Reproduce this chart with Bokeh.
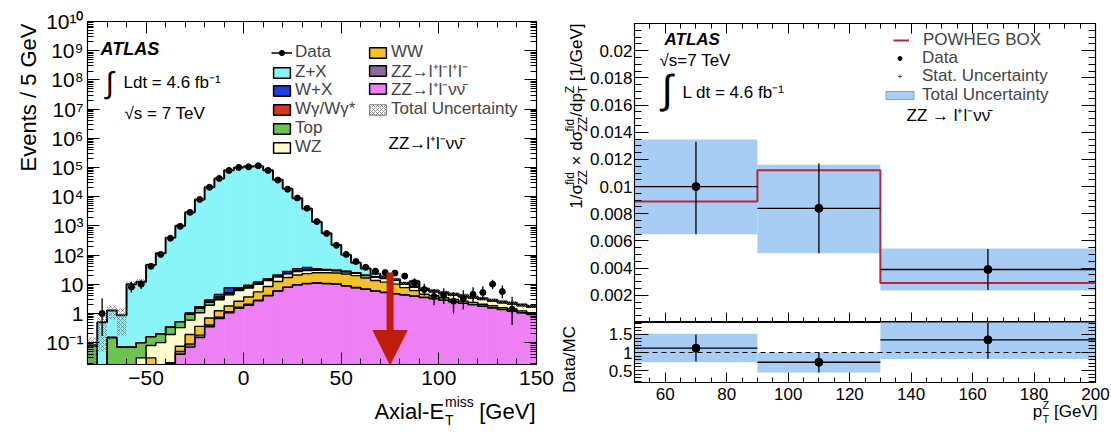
import numpy as np
from bokeh.plotting import figure
from bokeh.models import (ColumnDataSource, Label, Legend, LegendItem, FixedTicker,
                          LinearAxis, LogAxis, Range1d, CustomJSTickFormatter, Arrow,
                          NormalHead, Span)
from bokeh.layouts import row, column
from bokeh.embed import file_html
from bokeh.resources import INLINE
from bokeh.core.properties import value

FONT = "Liberation Sans"

# ---------------- left panel: Axial-E_T^miss, 5 GeV bins ----------------
met_edges = list(range(-80, 155, 5))
nan = float("nan")
data_counts = [nan, 1.0, nan, nan, 8, 10, 41, 105, 375, 960, 2900, 8000, 21000, 42000,
               79000, 100000, 105000, 115000, 79000, 37000, 18000, 9000, 4000, 1400, 550,
               215, 105, 60, 38, 28, 25, 24, 19, 11.5, 6.6, 3.8, 4.1, 2.6, 3.2, 4.5, 5.2,
               10, 5.6, 1.4, nan, nan]
data_err_lo = [0, 0.83, 0, 0, 2.8, 3.1, 6.4, 10, 19, 31, 54, 89, 145, 205, 281, 316, 324,
               339, 281, 192, 134, 95, 63, 37, 23, 14.7, 10, 7.7, 6.1, 5.3, 5.0, 4.9, 4.3,
               3.4, 2.6, 1.9, 2.0, 1.6, 1.8, 2.1, 2.2, 3.1, 2.3, 1.0, 0, 0]
data_err_hi = [0, 2.3, 0, 0, 3.9, 4.3, 7.4, 11, 20, 32, 55, 90, 146, 206, 282, 317, 325,
               340, 282, 193, 135, 96, 64, 38, 24, 15.7, 11, 8.8, 7.2, 6.3, 6.0, 5.9, 5.4,
               4.5, 3.7, 3.0, 3.2, 2.8, 3.0, 3.3, 3.4, 4.3, 3.5, 2.3, 0, 0]

zz_llvv = [0, 0, 0, 0, 0, 0, 0, 0, 0, 0.04, 0.07, 0.15, 0.35, 0.67, 1.05, 1.5, 1.9, 2.7,
           4.0, 5.8, 7.8, 9.5, 10.5, 11.0, 10.5, 10.0, 8.8, 7.6, 6.7, 5.8, 5.2, 4.7, 4.3,
           3.9, 3.5, 3.2, 2.8, 2.5, 2.2, 2.0, 1.75, 1.55, 1.35, 1.2, 1.05, 0.92]
zz_4l = [0, 0, 0, 0, 0, 0, 0, 0, 0.02, 0.01, 0.02, 0.03, 0.05, 0.07, 0.1, 0.12, 0.15, 0.15,
         0.15, 0.15, 0.15, 0.15, 0.15, 0.15, 0.12, 0.12, 0.1, 0.1, 0.08, 0.08, 0.07, 0.06,
         0.06, 0.05, 0.05, 0.04, 0.04, 0.03, 0.03, 0.03, 0.02, 0.02, 0.02, 0.02, 0.02, 0.02]
ww = [0, 0, 0, 0, 0, 0, 0.03, 0, 0, 0.025, 0.1, 0.18, 0.3, 0.5, 0.65, 1.0, 1.6, 2.6, 4.2,
      6.5, 9.0, 11.0, 12.5, 13.5, 14.0, 14.0, 13.5, 12.0, 9.5, 7.5, 6.5, 5.3, 3.3, 2.1,
      1.0, 0.8, 0.6, 0.5, 0.4, 0.35, 0.3, 0.25, 0.2, 0.2, 0.15, 0.12]
wz = [0, 0, 0, 0, 0, 0.03, 0.05, 0.1, 0.17, 0.25, 0.4, 0.7, 1.2, 1.7, 2.5, 3.5, 3.8, 4.5,
      5.0, 5.5, 6.0, 6.5, 6.5, 6.0, 5.5, 5.0, 4.5, 4.0, 3.5, 4.0, 4.0, 3.5, 2.2, 1.9, 1.6,
      1.45, 1.3, 1.2, 1.1, 1.0, 0.9, 0.82, 0.75, 0.7, 0.62, 0.55]
top = [0.08, 0, 0.15, 0.07, 0.07, 0.07, 0.08, 0.1, 0.15, 0.2, 0.35, 0.45, 0.5, 0.45, 0.4,
       0.4, 0.4, 0.4, 0.35, 0.35, 0.35, 0.3, 0.3, 0.3, 0.25, 0.25, 0.2, 0.2, 0.2, 0.15,
       0.15, 0.12, 0.12, 0.1, 0.1, 0.08, 0.08, 0.07, 0.06, 0.05, 0.05, 0.04, 0.04, 0.03,
       0.03, 0.03]
wgamma = [0, 0, 0, 0, 0, 0, 0, 0, 0, 0, 0.05, 0.1, 0.2, 0.3, 0.4, 0.5, 0.6, 0.6, 0.5, 0.4,
          0.3, 0.3, 0.25, 0.2, 0.15, 0.12, 0.1, 0.1, 0.08, 0.06, 0.05, 0.05, 0.04, 0.04,
          0.03, 0.03, 0.02, 0.02, 0.02, 0.02, 0.01, 0.01, 0.01, 0.01, 0.01, 0.01]
w_x = [0, 0, 0, 0, 0, 0, 0, 0, 0, 0, 0.05, 0.1, 0.3, 0.8, 2.5, 0.6, 0.8, 1.0, 1.2, 2.0, 4.0,
       6.0, 7.0, 3.0, 1.5, 1.0, 0.8, 0.6, 0.5, 0.4, 0.4, 0.3, 0.5, 4.0, 0.3, 0.2, 0.2, 0.15,
       0.15, 0.1, 0.1, 0.1, 0.1, 0.05, 0.05, 0.05]
z_x = [0, 0.5, 1.1, 0.8, 10, 12, 45, 115, 390, 1000, 2900, 8000, 21000, 42000, 80000,
       100000, 108000, 110000, 80000, 38000, 18500, 8800, 3800, 1350, 520, 190, 75, 30, 14,
       5, 2, 0.8, 0.6, 0.5, 0.4, 0.3, 0.3, 0.25, 0.2, 0.2, 0.15, 0.15, 0.1, 0.1, 0.1, 0.1]
rel_unc = [0.9, 0.9, 0.5, 0.8, 0.25, 0.25, 0.15, 0.12] + [0.1] * 17 + [0.12] * 8 + [0.15] * 13
cut_value = 75.0
arrow_from = 25.0

# ---------------- right panel: normalised pT^Z distribution ----------------
pt_edges = [50, 90, 130, 200]
pt_data = [0.0100, 0.0084, 0.0039]
pt_stat_lo = [0.0065, 0.0051, 0.0024]
pt_stat_hi = [0.0133, 0.0117, 0.0054]
pt_tot_lo = [0.0065, 0.0051, 0.00235]
pt_tot_hi = [0.01346, 0.0116, 0.00544]
powheg = [0.0089, 0.0112, 0.0029]
ratio = [1.12, 0.73, 1.35]
ratio_stat_lo = [0.75, 0.45, 0.83]
ratio_stat_hi = [1.50, 1.00, 1.95]
ratio_tot_lo = [0.73, 0.45, 0.82]
ratio_tot_hi = [1.52, 1.00, 1.90]

# ---------------- helpers ----------------
def style_axis(ax, fs, standoff, major=10, minor=5):
    ax.major_tick_in = major
    ax.major_tick_out = 0
    ax.minor_tick_in = minor
    ax.minor_tick_out = 0
    ax.axis_line_color = "black"
    ax.major_tick_line_color = "black"
    ax.minor_tick_line_color = "black"
    ax.major_label_text_font = FONT
    ax.major_label_text_font_size = fs
    ax.major_label_text_color = "black"
    ax.major_label_standoff = standoff


def hide_labels(ax):
    ax.formatter = CustomJSTickFormatter(code="return '';")
    ax.major_label_text_font_size = "1px"
    ax.major_label_standoff = 0


def blank_axis(cls, ticker, major=10, minor=5):
    ax = cls(ticker=ticker)
    style_axis(ax, "1px", 0, major, minor)
    hide_labels(ax)
    return ax


def step_xy(edges, vals):
    e = np.asarray(edges, float)
    v = np.asarray(vals, float)
    return np.repeat(e, 2)[1:-1], np.repeat(v, 2)


def add_label(fig, fx0, fy0, x, y, text, size, align="left", baseline="middle",
              angle=0.0, style="normal"):
    """In-frame label, positioned in screen pixels relative to the frame."""
    fig.add_layout(Label(x=x - fx0, y=fy0 - y, x_units="screen", y_units="screen",
                         text=text, text_font=FONT, text_font_size=f"{size}px",
                         text_align=align, text_baseline=baseline, angle=angle,
                         text_font_style=style, text_color="black"))


def add_text(fig, anchor, x, y, text, size, align="left", baseline="middle", angle=0.0,
             style="normal"):
    """Text outside the frame: anchored at a frame corner, offset in pixels."""
    (dx, dy), (px, py) = anchor
    fig.text(x=[dx], y=[dy], text=[text], x_offset=x - px, y_offset=y - py, angle=angle,
             text_font=value(FONT), text_font_size=value(f"{size}px"), text_align=align,
             text_baseline=baseline, text_font_style=style, text_color="black",
             level="overlay")


def add_legend_row(fig, fx0, fy0, xg, yc, label, renderers, gw, gh, standoff, fs, h=20):
    fig.add_layout(Legend(items=[LegendItem(label=value(label), renderers=renderers)],
                          location=(xg - fx0, fy0 - yc - h / 2), orientation="vertical",
                          padding=0, margin=0, spacing=0, glyph_width=gw, glyph_height=gh,
                          label_standoff=standoff, label_text_font=FONT,
                          label_text_font_size=f"{fs}px", label_height=h,
                          border_line_color=None, background_fill_alpha=0))


num_fmt = CustomJSTickFormatter(code="return String(parseFloat(tick.toFixed(4)));")
log_fmt = CustomJSTickFormatter(code="""
const e = Math.round(Math.log10(tick));
if (e === 0) return "1";
if (e === 1) return "10";
const m = {"-":"⁻","0":"⁰","1":"¹","2":"²","3":"³","4":"⁴","5":"⁵","6":"⁶","7":"⁷","8":"⁸","9":"⁹"};
return "10" + String(e).split("").map(c => m[c]).join("");
""")

# ================= LEFT FIGURE =================
L_LEFT, L_TOP, L_FW, L_FH = 87, 21, 449, 343
L_BOTTOM = L_TOP + L_FH
YLO, YHI = 10 ** -1.75, 1e10
p1 = figure(frame_width=L_FW, frame_height=L_FH, min_border_left=L_LEFT, min_border_right=24,
            min_border_top=L_TOP, min_border_bottom=432 - L_BOTTOM,
            x_range=Range1d(met_edges[0], met_edges[-1]), y_range=Range1d(YLO, YHI),
            y_axis_type="log", output_backend="svg", toolbar_location=None)
p1.grid.visible = False
p1.outline_line_color = "black"
p1.outline_line_width = 1.2
p1.background_fill_color = "white"
p1.border_fill_color = "white"

xt1 = FixedTicker(ticks=[-50, 0, 50, 100, 150], minor_ticks=list(range(-80, 151, 10)))
yt1 = FixedTicker(ticks=[10.0 ** k for k in range(-1, 11)],
                  minor_ticks=[m * 10.0 ** k for k in range(-2, 10) for m in range(2, 10)])
p1.xaxis.ticker = xt1
p1.yaxis.ticker = yt1
p1.yaxis.formatter = log_fmt
style_axis(p1.xaxis[0], "21px", 6, 12, 6)
style_axis(p1.yaxis[0], "21px", 4, 12, 6)
p1.add_layout(blank_axis(LinearAxis, xt1, 12, 6), "above")
p1.add_layout(blank_axis(LogAxis, yt1, 12, 6), "right")

FLOOR = 1e-3
e = np.array(met_edges, float)
bl, br = e[:-1], e[1:]
components = [
    (zz_llvv, "#ef7ff5"), (zz_4l, "#8c6a9c"), (ww, "#f5c02a"), (wz, "#fffbcb"),
    (top, "#6cc34e"), (wgamma, "#e0331f"), (w_x, "#1d3ee6"), (z_x, "#8af5f8"),
]
cum = np.zeros(len(bl))
levels = []
for vals, col in components:
    new = cum + np.array(vals, float)
    lo, hi = np.maximum(cum, FLOOR), np.maximum(new, FLOOR)
    keep = hi > lo
    p1.quad(left=bl[keep], right=br[keep], bottom=lo[keep], top=hi[keep],
            fill_color=col, line_color=col, line_width=0.6)
    levels.append(new)
    cum = new
for i, lv in enumerate(levels):
    xs, ys = step_xy(met_edges, np.maximum(lv, FLOOR))
    p1.line(xs, ys, line_color="black", line_width=2.0 if i == len(levels) - 1 else 1.4)

unc = np.array(rel_unc)
p1.quad(left=bl, right=br, bottom=np.maximum(cum * (1 - unc), FLOOR), top=cum * (1 + unc),
        fill_alpha=0, line_color=None, hatch_pattern="diagonal_cross", hatch_color="#666666",
        hatch_scale=4, hatch_weight=0.7, hatch_alpha=0.9)

dc = np.array(data_counts, float)
ok = ~np.isnan(dc)
cx = (bl + br) / 2
dsrc = ColumnDataSource(dict(x=cx[ok], y=dc[ok], lo=dc[ok] - np.array(data_err_lo)[ok],
                             hi=dc[ok] + np.array(data_err_hi)[ok],
                             xl=bl[ok] + 1.0, xr=br[ok] - 1.0))
p1.segment(x0="x", y0="lo", x1="x", y1="hi", source=dsrc, line_color="black", line_width=1.3)
p1.segment(x0="xl", y0="y", x1="xr", y1="y", source=dsrc, line_color="black", line_width=1.3)
p1.scatter(x="x", y="y", source=dsrc, marker="circle", size=6, color="black")

red = "#c01c0c"
p1.add_layout(Arrow(end=NormalHead(size=34, fill_color=red, line_color=red),
                    x_start=cut_value, y_start=arrow_from, x_end=cut_value, y_end=YLO,
                    line_color=red, line_width=7))


def dummy_box(fig, color, **kw):
    return fig.quad(left=[0], right=[0], bottom=[1], top=[1], fill_color=color, **kw)


def dummy_marker(fig, marker, **kw):
    return fig.scatter(x=[-1e6], y=[1], marker=marker, **kw)


def dummy_line(fig, **kw):
    return fig.line(x=[-1e6, -1e6 + 1], y=[1, 1], **kw)


lg_bar = dummy_line(p1, line_color="black", line_width=1.5)
lg_dot = dummy_marker(p1, "circle", size=7, color="black")
left_legend = [
    (271, 52, "Data", [lg_bar, lg_dot]),
    (271, 72, "Z+X", [dummy_box(p1, "#8af5f8", line_color="black", line_width=1.5)]),
    (271, 90, "W+X", [dummy_box(p1, "#1d3ee6", line_color="black", line_width=1.5)]),
    (271, 109, "Wγ/Wγ*", [dummy_box(p1, "#e0331f", line_color="black", line_width=1.5)]),
    (271, 128, "Top", [dummy_box(p1, "#6cc34e", line_color="black", line_width=1.5)]),
    (271, 147, "WZ", [dummy_box(p1, "#fffbcb", line_color="black", line_width=1.5)]),
    (367, 52, "WW", [dummy_box(p1, "#f5c02a", line_color="black", line_width=1.5)]),
    (367, 72, "ZZ→l⁺l⁻l⁺l⁻", [dummy_box(p1, "#8c6a9c", line_color="black", line_width=1.5)]),
    (367, 90, "ZZ→l⁺l⁻νν̄", [dummy_box(p1, "#ef7ff5", line_color="black", line_width=1.5)]),
    (367, 109, "Total Uncertainty",
     [dummy_box(p1, "white", line_color="#777777", line_width=1, hatch_pattern="diagonal_cross",
                hatch_color="#666666", hatch_scale=4, hatch_weight=0.7)]),
]
for xg, yc, lab, rs in left_legend:
    add_legend_row(p1, L_LEFT, L_BOTTOM, xg, yc, lab, rs, 21, 13, 3, 17)

add_label(p1, L_LEFT, L_BOTTOM, 100, 48, "ATLAS", 18, style="bold italic")
add_label(p1, L_LEFT, L_BOTTOM, 105, 82, "∫", 30)
add_label(p1, L_LEFT, L_BOTTOM, 123, 82, "Ldt = 4.6 fb⁻¹", 17)
add_label(p1, L_LEFT, L_BOTTOM, 124, 113, "√s = 7 TeV", 17)
add_label(p1, L_LEFT, L_BOTTOM, 388, 143, "ZZ→l⁺l⁻νν̄", 17)

A1 = ((met_edges[0], YLO), (L_LEFT, L_BOTTOM))
add_text(p1, A1, 28, 23, "Events / 5 GeV", 22, align="right", angle=np.pi / 2)
add_text(p1, A1, 535, 411, "[GeV]", 22, align="right")
add_text(p1, A1, 443.6, 411, "Axial-E", 22, align="right")
add_text(p1, A1, 444.5, 401, "miss", 14)
add_text(p1, A1, 444.5, 419, "T", 14)

# ================= RIGHT FIGURES =================
R_LEFT_PAGE = 634
M_TOP, M_FH, R_FW = 23, 299, 461
M_BOTTOM = M_TOP + M_FH
p2 = figure(frame_width=R_FW, frame_height=M_FH, min_border_left=74, min_border_right=16,
            min_border_top=M_TOP, min_border_bottom=0, x_range=Range1d(50, 200),
            y_range=Range1d(0, 0.022), output_backend="svg", toolbar_location=None)
R_FH = 60
R_BOTTOM = M_BOTTOM + R_FH
p3 = figure(frame_width=R_FW, frame_height=R_FH, min_border_left=74, min_border_right=16,
            min_border_top=0, min_border_bottom=432 - R_BOTTOM, x_range=Range1d(50, 200),
            y_range=Range1d(0.17, 1.83), output_backend="svg", toolbar_location=None)
for p in (p2, p3):
    p.grid.visible = False
    p.outline_line_color = "black"
    p.outline_line_width = 1.2
    p.background_fill_color = "white"
    p.border_fill_color = "white"

xt2 = FixedTicker(ticks=list(range(60, 201, 20)), minor_ticks=list(range(50, 201, 5)))
yt2 = FixedTicker(ticks=[0.002 * k for k in range(1, 11)],
                  minor_ticks=[0.0005 * k for k in range(0, 45)])
yt3 = FixedTicker(ticks=[0.5, 1.0, 1.5], minor_ticks=[0.1 * k for k in range(2, 19)])
p2.xaxis.ticker = xt2
p2.yaxis.ticker = yt2
p2.yaxis.formatter = num_fmt
style_axis(p2.xaxis[0], "1px", 0, 10, 5)
hide_labels(p2.xaxis[0])
style_axis(p2.yaxis[0], "17px", 2, 14, 7)
p2.add_layout(blank_axis(LinearAxis, xt2, 10, 5), "above")
p2.add_layout(blank_axis(LinearAxis, yt2, 14, 7), "right")
p3.xaxis.ticker = xt2
p3.yaxis.ticker = yt3
p3.yaxis.formatter = num_fmt
style_axis(p3.xaxis[0], "17px", 5, 10, 5)
style_axis(p3.yaxis[0], "17px", 2, 14, 7)
p3.add_layout(blank_axis(LinearAxis, yt3, 14, 7), "right")

BLUE = "#a8cdf5"
pl, pr = np.array(pt_edges[:-1], float), np.array(pt_edges[1:], float)
pc = np.array([70.0, 110.0, 165.0])
p2.quad(left=pl, right=pr, bottom=pt_tot_lo, top=pt_tot_hi, fill_color=BLUE, line_color=None)
xs, ys = step_xy(pt_edges, powheg)
POW = "#b5283a"
p2.line(xs, ys, line_color=POW, line_width=2)
p2.segment(x0=pl, y0=pt_data, x1=pr, y1=pt_data, line_color="black", line_width=1.3)
p2.segment(x0=pc, y0=pt_stat_lo, x1=pc, y1=pt_stat_hi, line_color="black", line_width=1.3)
p2.scatter(x=pc, y=pt_data, marker="circle", size=8, color="black")

p3.quad(left=pl, right=pr, bottom=ratio_tot_lo, top=ratio_tot_hi, fill_color=BLUE,
        line_color=None)
p3.add_layout(Span(location=1.0, dimension="width", line_color="black", line_width=1.2,
                   line_dash="5 4"))
p3.segment(x0=pl, y0=ratio, x1=pr, y1=ratio, line_color="black", line_width=1.3)
p3.segment(x0=pc, y0=ratio_stat_lo, x1=pc, y1=ratio_stat_hi, line_color="black",
           line_width=1.3)
p3.scatter(x=pc, y=ratio, marker="circle", size=8, color="black")

right_legend = [
    (893, 40, "POWHEG BOX", [dummy_line(p2, line_color=POW, line_width=2)], 16, 14),
    (882, 58, "Data", [dummy_marker(p2, "circle", size=8, color="black")], 35, 5),
    (882, 76, "Stat. Uncertainty", [dummy_marker(p2, "cross", size=9, line_color="#555555",
                                                 line_width=1)], 35, 5),
    (882, 95, "Total Uncertainty", [dummy_box(p2, BLUE, line_color="#7d9fc8", line_width=1)],
     35, 5),
]
for xg, yc, lab, rs, gw, so in right_legend:
    add_legend_row(p2, R_LEFT_PAGE, M_BOTTOM, xg, yc, lab, rs, gw, 10, so, 17)

add_label(p2, R_LEFT_PAGE, M_BOTTOM, 664, 39, "ATLAS", 17, style="bold italic")
add_label(p2, R_LEFT_PAGE, M_BOTTOM, 659, 60, "√s=7 TeV", 17)
add_label(p2, R_LEFT_PAGE, M_BOTTOM, 661, 88, "∫", 40)
add_label(p2, R_LEFT_PAGE, M_BOTTOM, 682, 92, "L dt = 4.6 fb⁻¹", 17)
add_label(p2, R_LEFT_PAGE, M_BOTTOM, 906, 115, "ZZ → l⁺l⁻νν̄", 17)

A2 = ((50, 0.0), (R_LEFT_PAGE, M_BOTTOM))
YX = 576
rot = np.pi / 2
add_text(p2, A2, YX, 208.2, "1/σ", 17, angle=rot)
add_text(p2, A2, YX - 7, 184.3, "fid", 12, angle=rot)
add_text(p2, A2, YX + 6, 184.3, "ZZ", 12, angle=rot)
add_text(p2, A2, YX, 164.9, "× dσ", 17, angle=rot)
add_text(p2, A2, YX - 7, 131.0, "fid", 12, angle=rot)
add_text(p2, A2, YX + 6, 131.0, "ZZ", 12, angle=rot)
add_text(p2, A2, YX, 116.3, "/dp", 17, angle=rot)
add_text(p2, A2, YX - 7, 92.7, "Z", 12, angle=rot)
add_text(p2, A2, YX + 6, 92.7, "T", 12, angle=rot)
add_text(p2, A2, YX, 80.7, "[1/GeV]", 17, angle=rot)

A3 = ((50, 0.17), (R_LEFT_PAGE, R_BOTTOM))
add_text(p3, A3, 569, 359, "Data/MC", 17, align="center", angle=rot)
add_text(p3, A3, 1097, 411, "[GeV]", 17, align="right")
add_text(p3, A3, 1041.8, 411, "p", 17, align="right")
add_text(p3, A3, 1042, 404, "Z", 11)
add_text(p3, A3, 1042, 418, "T", 11)

layout = row(p1, column(p2, p3, spacing=0), spacing=0)
with open("out.html", "w", encoding="utf-8") as f:
    f.write(file_html(layout, INLINE))
